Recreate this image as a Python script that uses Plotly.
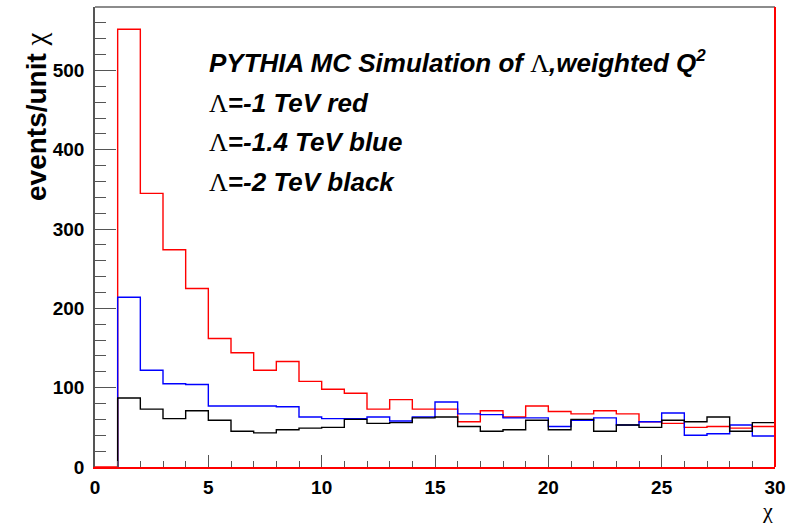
import plotly.graph_objects as go

# Bin edges of the chi histogram (unit-width bins from 1 to 30)
bin_edges = list(range(1, 31))

# events per unit chi for each Lambda value
red_vals = [552, 345, 274, 225, 162, 144, 122, 133, 108, 98,
            93, 73, 85, 73, 73, 57, 71, 63, 77, 70,
            67, 71, 67, 57, 55, 50, 51, 49, 51]
blue_vals = [214, 122, 105, 104, 77, 77, 77, 76, 63, 61,
             61, 63, 58, 63, 82, 67, 66, 62, 62, 51,
             59, 62, 53, 57, 68, 40, 42, 53, 39]
black_vals = [87, 73, 61, 71, 59, 45, 43, 47, 49, 50,
              60, 55, 56, 62, 63, 51, 45, 47, 59, 47,
              60, 45, 53, 50, 59, 57, 63, 45, 56]

x_range = [0, 30]
y_range = [0, 580]

LAM = "<span style='font-family:Liberation Serif;font-style:normal;font-weight:normal'>Λ</span>"
text_lines = [
    "PYTHIA MC Simulation of " + LAM + ",weighted Q<sup><span style='font-size:17px'>2</span></sup>",
    LAM + "=-1 TeV red",
    LAM + "=-1.4 TeV blue",
    LAM + "=-2 TeV black",
]


def step_xy(values, lead_zero_from=None):
    xs, ys = [], []
    if lead_zero_from is not None:
        xs += [lead_zero_from]
        ys += [0]
    xs += [bin_edges[0]]
    ys += [0]
    for i, v in enumerate(values):
        xs.append(bin_edges[i])
        ys.append(v)
    xs.append(bin_edges[-1])
    ys.append(values[-1])
    xs.append(bin_edges[-1])
    ys.append(0)
    return xs, ys


fig = go.Figure()
for vals, col, lead in [(red_vals, "#ff0000", 0), (blue_vals, "#0000ff", None), (black_vals, "#000000", None)]:
    xs, ys = step_xy(vals, lead)
    fig.add_trace(go.Scatter(x=xs, y=ys, mode="lines", line=dict(color=col, width=1.4, shape="hv"),
                             hoverinfo="skip", showlegend=False))

W, H = 794, 525
L, R, T, B = 95, 19, 7, 58
pw, ph = W - L - R, H - T - B

tickfont = dict(family="Liberation Sans", size=19, color="#000000", weight="bold")
fig.update_layout(
    width=W, height=H, margin=dict(l=L, r=R, t=T, b=B),
    paper_bgcolor="white", plot_bgcolor="white",
    xaxis=dict(range=x_range, dtick=5, tick0=0, ticks="inside", ticklen=12, tickcolor="#555555",
               tickwidth=1, showgrid=False, zeroline=False, showline=True, linecolor="#ff0000", linewidth=2,
               tickfont=tickfont, ticklabelstandoff=2,
               minor=dict(dtick=1, ticks="inside", ticklen=6, tickcolor="#555555", showgrid=False),
               tickformat="d"),
    yaxis=dict(range=y_range, dtick=100, tick0=0, ticks="inside", ticklen=21, tickcolor="#555555",
               tickwidth=1, showgrid=False, zeroline=False, showline=True, linecolor="#555555", linewidth=1.5,
               tickfont=tickfont, ticklabelstandoff=5,
               minor=dict(dtick=20, ticks="inside", ticklen=11, tickcolor="#555555", showgrid=False)),
)

# Frame: top edge grey, right edge red
fig.add_shape(type="line", xref="paper", yref="paper", x0=0, x1=1, y0=1, y1=1,
              line=dict(color="#666666", width=1.5))
fig.add_shape(type="line", xref="paper", yref="paper", x0=1, x1=1, y0=0, y1=1,
              line=dict(color="#ff0000", width=2))


def px_to_paper_x(px):
    return (px - L) / pw


def px_to_paper_y(py):
    return (H - B - py) / ph


# Text block
line_centres = [62, 103, 142, 182]
for txt, yc in zip(text_lines, line_centres):
    fig.add_annotation(xref="paper", yref="paper", x=px_to_paper_x(207), y=px_to_paper_y(yc),
                       xanchor="left", yanchor="middle", showarrow=False, text="<b><i>" + txt + "</i></b>",
                       font=dict(family="Liberation Sans", size=26, color="#000000"))

# Axis titles
fig.add_annotation(xref="paper", yref="paper", x=px_to_paper_x(36), y=px_to_paper_y(117),
                   xanchor="center", yanchor="middle", textangle=-90, showarrow=False,
                   text="<b>events/unit </b><span style='font-family:Liberation Serif;font-size:29px'>χ</span>",
                   font=dict(family="Liberation Sans", size=28, color="#000000"))
fig.add_annotation(xref="paper", yref="paper", x=px_to_paper_x(767), y=px_to_paper_y(524),
                   xanchor="center", yanchor="bottom", showarrow=False, borderpad=0,
                   text="χ", font=dict(family="Liberation Serif", size=22, color="#000000"))

fig.write_html("out.html")
